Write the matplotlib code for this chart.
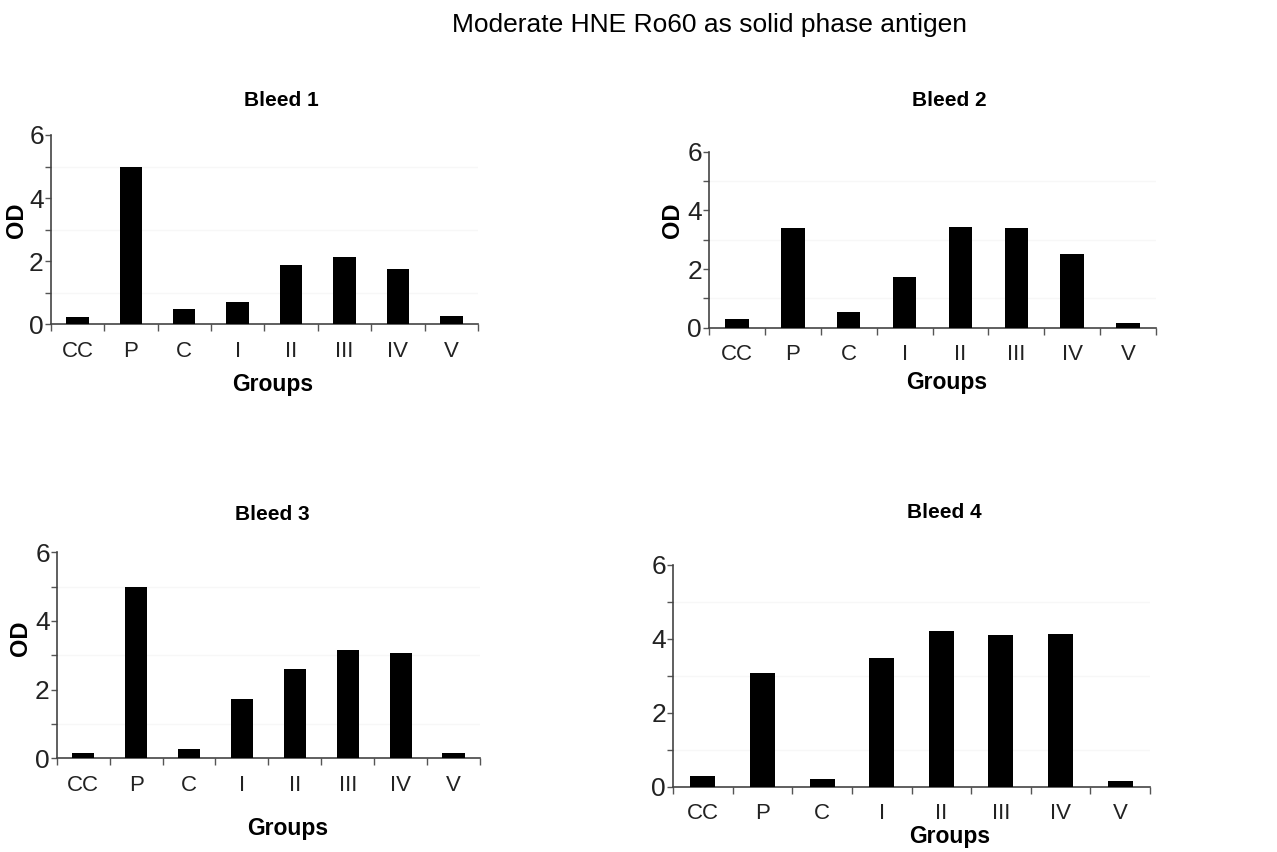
import numpy as np
import matplotlib.pyplot as plt
from matplotlib.ticker import MultipleLocator, FixedLocator, NullFormatter

plt.rcParams['font.family'] = ['Liberation Sans', 'DejaVu Sans']

groups = ['CC', 'P', 'C', 'I', 'II', 'III', 'IV', 'V']
bleed1 = [0.22, 5.0, 0.48, 0.72, 1.87, 2.14, 1.74, 0.26]
bleed2 = [0.31, 3.39, 0.55, 1.74, 3.44, 3.39, 2.52, 0.15]
bleed3 = [0.15, 5.0, 0.26, 1.74, 2.60, 3.16, 3.06, 0.15]
bleed4 = [0.29, 3.07, 0.21, 3.49, 4.21, 4.11, 4.13, 0.16]
titles = ['Bleed 1', 'Bleed 2', 'Bleed 3', 'Bleed 4']

fig = plt.figure(figsize=(12.77, 8.52), dpi=100)
W, H = 1277, 852

def px(x0, x1, y0, y1):
    # pixel box (left, right, y of 0, y of 6) -> figure fraction rect
    return [x0 / W, 1 - y0 / H, (x1 - x0) / W, (y0 - y1) / H]

boxes = [px(50.7, 478, 324.3, 135), px(709, 1156, 327.7, 151.7),
         px(56.7, 480, 758.3, 552.3), px(673, 1150, 786.7, 565)]
title_pos = [(281, 101), (949, 101), (272, 515), (944, 513)]
xlab_pos = [(273, 385), (947, 383), (288, 828), (950, 837)]
ylab_pos = [(17, 220), (672, 220), (20, 638), None]

x = np.arange(len(groups))
for i, vals in enumerate([bleed1, bleed2, bleed3, bleed4]):
    ax = fig.add_axes(boxes[i])
    ax.bar(x, vals, width=0.42, color='black', zorder=3)
    ax.set_xlim(-0.5, len(groups) - 0.5)
    ax.set_ylim(0, 6)
    ax.set_yticks([0, 2, 4, 6])
    ax.yaxis.set_minor_locator(MultipleLocator(1))
    ax.grid(axis='y', which='minor', color='#f7f7f7', lw=1, zorder=0)
    ax.set_xticks(x)
    ax.set_xticklabels(groups)
    ax.xaxis.set_minor_locator(FixedLocator(np.arange(-0.5, len(groups), 1)))
    ax.xaxis.set_minor_formatter(NullFormatter())
    ax.tick_params(axis='x', which='major', length=0, pad=12, labelsize=16, labelcolor='#222222')
    ax.tick_params(axis='x', which='minor', length=5, width=1, color='#555555')
    ax.tick_params(axis='y', which='both', length=4, width=1, pad=1, labelsize=19, color='#555555', labelcolor='#222222')
    for s in ['top', 'right']:
        ax.spines[s].set_visible(False)
    for s in ['left', 'bottom']:
        ax.spines[s].set_color('#444444')
        ax.spines[s].set_linewidth(1.2)

    fig.text(title_pos[i][0] / W, 1 - title_pos[i][1] / H, titles[i],
             ha='center', va='center', fontsize=15, fontweight='bold')
    fig.text(xlab_pos[i][0] / W, 1 - xlab_pos[i][1] / H, 'Groups',
             ha='center', va='center', fontsize=16.5, fontweight='bold')
    if ylab_pos[i] is not None:
        fig.text(ylab_pos[i][0] / W, 1 - ylab_pos[i][1] / H, 'OD', rotation=90,
                 ha='center', va='center', fontsize=17, fontweight='bold')

fig.text(709 / W, 1 - 25 / H, 'Moderate HNE Ro60 as solid phase antigen',
         ha='center', va='center', fontsize=19)

fig.savefig('out.png', dpi=100)
